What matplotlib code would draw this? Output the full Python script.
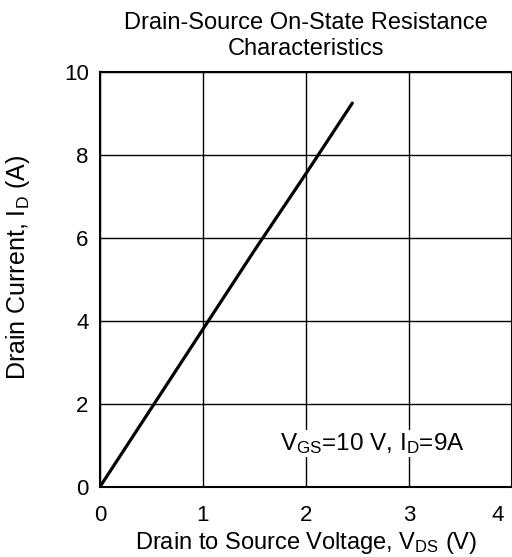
import matplotlib
matplotlib.use('Agg')
import matplotlib.pyplot as plt
import matplotlib.transforms as mtransforms

plt.rcParams['font.family'] = ['Liberation Sans', 'DejaVu Sans']
plt.rcParams['mathtext.fontset'] = 'custom'
plt.rcParams['mathtext.rm'] = 'Liberation Sans'
plt.rcParams['mathtext.it'] = 'Liberation Sans'

# data
vds = [0.0, 0.5, 1.0, 1.5, 2.0, 2.45]
i_d = [0.0, 1.9, 3.8, 5.7, 7.55, 9.25]

xticks = [0, 1, 2, 3, 4]
yticks = [0, 2, 4, 6, 8, 10]

fig = plt.figure(figsize=(5.12, 5.57), dpi=100)
ax = fig.add_axes([0.195, 0.1257, 0.805, 0.745])

ax.plot(vds, i_d, color='black', lw=2.3, solid_capstyle='round')

ax.set_xlim(0, 4)
ax.set_ylim(0, 10)
ax.set_xticks(xticks)
ax.set_yticks(yticks)
ax.grid(True, color='black', lw=1.0)
ax.tick_params(axis='x', length=0, labelsize=16, pad=13)
ax.tick_params(axis='y', length=0, labelsize=16, pad=8)
for s in ax.spines.values():
    s.set_linewidth(1.5)

# last x tick label sits a bit inside the figure edge
lbl = ax.get_xticklabels()[-1]
lbl.set_transform(lbl.get_transform() +
                  mtransforms.ScaledTranslation(-0.14, 0, fig.dpi_scale_trans))

ax.set_xlabel(r'Drain to Source Voltage, V$_{\mathrm{DS}}$ (V)', fontsize=17, labelpad=3)
ax.set_ylabel(r'Drain Current, I$_{\mathrm{D}}$ (A)', fontsize=18)
ax.yaxis.set_label_coords(-0.165, 0.53)
ax.set_title('Drain-Source On-State Resistance\nCharacteristics', fontsize=17, pad=12,
             linespacing=1.25)

ax.text(1.75, 1.05, r'V$_{\mathrm{GS}}$=10 V, I$_{\mathrm{D}}$=9A', fontsize=17.5,
        va='center', ha='left',
        bbox=dict(facecolor='white', edgecolor='none', pad=1))

fig.savefig('out.png', dpi=100)
